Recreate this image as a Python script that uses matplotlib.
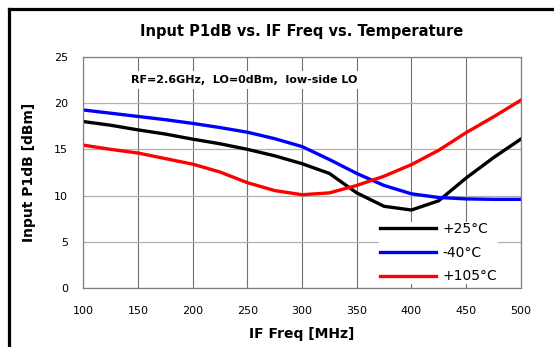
import numpy as np
import matplotlib.pyplot as plt
from matplotlib.lines import Line2D

freq = [100, 125, 150, 175, 200, 225, 250, 275, 300, 325, 350, 375, 400, 425, 450, 475, 500]
p1db_25 = [18.0, 17.6, 17.1, 16.65, 16.1, 15.6, 15.0, 14.3, 13.45, 12.4, 10.3, 8.85, 8.45, 9.45, 11.9, 14.1, 16.1]
p1db_m40 = [19.25, 18.9, 18.55, 18.2, 17.8, 17.35, 16.85, 16.15, 15.3, 13.9, 12.4, 11.1, 10.2, 9.8, 9.65, 9.6, 9.6]
p1db_105 = [15.45, 15.0, 14.6, 14.0, 13.4, 12.55, 11.4, 10.55, 10.1, 10.3, 11.1, 12.1, 13.35, 14.9, 16.8, 18.5, 20.3]

xticks = np.arange(100, 501, 50)
yticks = np.arange(0, 26, 5)
bold = {'weight': 'bold'}

fig = plt.figure(figsize=(5.54, 3.47), dpi=100)
ax = fig.add_axes([0.1504, 0.1692, 0.7896, 0.6674])

ax.plot(freq, p1db_25, color='black', lw=2.4, label='+25°C')
ax.plot(freq, p1db_m40, color='#0000ff', lw=2.4, label='-40°C')
ax.plot(freq, p1db_105, color='#ff0000', lw=2.4, label='+105°C')

ax.set_xlim(100, 500)
ax.set_ylim(0, 25)
ax.set_xticks(xticks)
ax.set_yticks(yticks)
ax.tick_params(length=0, labelsize=8)
ax.tick_params(axis='x', pad=13)
ax.tick_params(axis='y', pad=11)
ax.xaxis.grid(True, color='#707070', lw=0.8)
ax.yaxis.grid(True, color='#b0b0b0', lw=0.9)
ax.set_axisbelow(True)
for s in ax.spines.values():
    s.set_color('#808080')
    s.set_linewidth(0.9)

ax.set_title('Input P1dB vs. IF Freq vs. Temperature', fontdict=bold, fontsize=10.5, pad=15)
ax.set_xlabel('IF Freq [MHz]', fontdict=bold, fontsize=10, labelpad=8)
ax.set_ylabel('Input P1dB [dBm]', fontdict=bold, fontsize=10, labelpad=13)

ax.text(0.11, 0.9, 'RF=2.6GHz,  LO=0dBm,  low-side LO', transform=ax.transAxes,
        fontsize=8, fontweight='bold', va='center', ha='left',
        bbox=dict(facecolor='white', edgecolor='none', pad=3))

leg = ax.legend(loc='lower right', bbox_to_anchor=(0.964, -0.012), fontsize=10,
                handlelength=4, handletextpad=0.5, labelspacing=0.69,
                frameon=True, fancybox=False, borderpad=0.05)
leg.get_frame().set_facecolor('white')
leg.get_frame().set_edgecolor('none')
leg.get_frame().set_alpha(1)
leg.set_zorder(2.4)

fig.add_artist(Line2D([9/554, 9/554], [0, 1 - 9/347], color='black', lw=2.3, transform=fig.transFigure))
fig.add_artist(Line2D([9/554, 1], [1 - 9/347, 1 - 9/347], color='black', lw=2.3, transform=fig.transFigure))

plt.savefig('out.png', dpi=100)
